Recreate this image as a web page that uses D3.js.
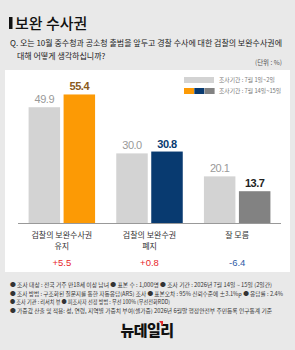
<!DOCTYPE html>
<html>
<head>
<meta charset="utf-8">
<script src="https://cdn.jsdelivr.net/npm/d3@7"></script>
<style>
  body { margin: 0; background: #e9e9e9; }
  svg { display: block; font-family: "Noto Sans CJK KR", "Noto Sans", sans-serif; }
</style>
</head>
<body>
<svg id="chart"></svg>
<script>
// data
var categories = [["검찰의 보완수사권", "유지"], ["검찰의 보완수권", "폐지"], ["잘 모름"]];
var period1 = [49.9, 30.0, 20.1];
var period2 = [55.4, 30.8, 13.7];
var changes = ["+5.5", "+0.8", "-6.4"];
var seriesNames = ["조사기간 : 7월 1일~2일", "조사기간 : 7월 14일~15일"];
var notes = [
    "● 조사 대상 : 전국 거주 만18세 이상 남녀   ● 표본 수 : 1,000명   ● 조사 기간 : 2026년 7월 14일 ~ 15일 (2일간)",
    "● 조사 방법 : 구조화된 질문지를 통한 자동응답(ARS) 조사  ● 표본오차 : 95% 신뢰수준에 ±3.1%p   ● 응답률 : 2.4%",
    "● 조사 기관 : 리서치 뷰   ● 피조사자 선정 방법 : 무선 100% (무선전화RDD)",
    "● 가중값 산출 및 적용: 성, 연령, 지역별 가중치 부여(셀가중) 2026년 6월말 행정안전부 주민등록 인구통계 기준"
];

var width = 295, height = 350;
var p1Color = "#d3d3d3";
var p2Colors = ["#fc9a05", "#083a70", "#828282"];
var p2Label = ["#8a5a1c", "#083a70", "#222"];
var changeColors = ["#e8262a", "#e8262a", "#2d5ba6"];

var svg = d3.select("#chart").attr("width", width).attr("height", height);

svg.append("rect").attr("width", width).attr("height", height).attr("fill", "#e9e9e9");

// title
svg.append("rect").attr("x", 9).attr("y", 17).attr("width", 3.5).attr("height", 12).attr("fill", "#111");
svg.append("text").attr("x", 15).attr("y", 29)
    .attr("font-size", 15).attr("font-weight", 500).attr("fill", "#111")
    .text("보완 수사권");

svg.append("text").attr("x", 10).attr("y", 46)
    .attr("font-size", 8).attr("fill", "#222")
    .attr("textLength", 272).attr("lengthAdjust", "spacingAndGlyphs")
    .text("Q. 오는 10월 중수청과 공소청 출범을 앞두고 경찰 수사에 대한 검찰의 보완수사권에");
svg.append("text").attr("x", 17).attr("y", 59)
    .attr("font-size", 8).attr("fill", "#222")
    .text("대해 어떻게 생각하십니까?");

svg.append("text").attr("x", 282).attr("y", 65)
    .attr("font-size", 6.5).attr("fill", "#555").attr("text-anchor", "end")
    .text("(단위 : %)");

// white panel
svg.append("rect").attr("x", 5).attr("y", 70).attr("width", 285).attr("height", 202).attr("fill", "#fff");

// legend
svg.append("rect").attr("x", 184).attr("y", 77).attr("width", 30).attr("height", 6).attr("fill", p1Color);
p2Colors.forEach(function (c, i) {
    svg.append("rect").attr("x", 184 + i * 10.3).attr("y", 88).attr("width", 10).attr("height", 6).attr("fill", c);
});
seriesNames.forEach(function (s, i) {
    svg.append("text").attr("x", 219).attr("y", 82 + i * 11)
        .attr("font-size", 5.8).attr("fill", "#777").text(s);
});

// scales
var x = d3.scaleBand().domain(d3.range(categories.length)).range([18, 281]).paddingInner(0.24).paddingOuter(0.12);
var y = d3.scaleLinear().domain([0, 100]).range([223, -9]);
var barW = 31.5, gap = 3.5;

var g = svg.append("g");
var groups = g.selectAll(".grp").data(categories).enter().append("g").attr("class", "grp");

groups.append("rect")
    .attr("x", (d, i) => x(i) + x.bandwidth() / 2 - gap / 2 - barW)
    .attr("y", (d, i) => y(period1[i]))
    .attr("width", barW)
    .attr("height", (d, i) => y(0) - y(period1[i]))
    .attr("fill", p1Color);

groups.append("rect")
    .attr("x", (d, i) => x(i) + x.bandwidth() / 2 + gap / 2)
    .attr("y", (d, i) => y(period2[i]))
    .attr("width", barW)
    .attr("height", (d, i) => y(0) - y(period2[i]))
    .attr("fill", (d, i) => p2Colors[i]);

groups.append("text")
    .attr("x", (d, i) => x(i) + x.bandwidth() / 2 - gap / 2 - barW / 2)
    .attr("y", (d, i) => y(period1[i]) - 4)
    .attr("text-anchor", "middle").attr("font-size", 11).attr("fill", "#999")
    .attr("font-family", "Liberation Sans, Arial, sans-serif").attr("letter-spacing", -0.5)
    .text((d, i) => period1[i].toFixed(1));

groups.append("text")
    .attr("x", (d, i) => x(i) + x.bandwidth() / 2 + gap / 2 + barW / 2)
    .attr("y", (d, i) => y(period2[i]) - 4)
    .attr("text-anchor", "middle").attr("font-size", 11).attr("font-weight", "bold")
    .attr("font-family", "Liberation Sans, Arial, sans-serif").attr("letter-spacing", -0.5)
    .attr("fill", (d, i) => p2Label[i])
    .text((d, i) => period2[i].toFixed(1));

// baseline
svg.append("line").attr("x1", 18).attr("x2", 281).attr("y1", y(0) + 0.5).attr("y2", y(0) + 0.5)
    .attr("stroke", "#999").attr("stroke-width", 1);

// category labels, one text per line
groups.each(function (d, i) {
    var grp = d3.select(this);
    d.forEach(function (line, j) {
        grp.append("text")
            .attr("text-anchor", "middle").attr("font-size", 8).attr("fill", "#333")
            .attr("x", x(i) + x.bandwidth() / 2).attr("y", 238 + j * 10.5)
            .text(line);
    });
});

groups.append("text")
    .attr("x", (d, i) => x(i) + x.bandwidth() / 2)
    .attr("y", 266)
    .attr("text-anchor", "middle").attr("font-size", 9.5)
    .attr("font-family", "Liberation Sans, Arial, sans-serif")
    .attr("fill", (d, i) => changeColors[i])
    .text((d, i) => changes[i]);

// notes
var noteLens = [262, 273, 160, 262];
notes.forEach(function (n, i) {
    svg.append("text").attr("x", 10).attr("y", 287 + i * 8.5)
        .attr("font-size", 5.5).attr("fill", "#333")
        .attr("textLength", noteLens[i]).attr("lengthAdjust", "spacingAndGlyphs")
        .text(n);
});

// logo
svg.append("text").attr("x", 147).attr("y", 336)
    .attr("text-anchor", "middle").attr("font-size", 15).attr("font-weight", 900).attr("fill", "#111")
    .attr("letter-spacing", -0.5)
    .text("뉴데일리");
svg.append("path").attr("d", "M159 321 L163 321 L163 326 Z").attr("fill", "#e8262a");
</script>
</body>
</html>
